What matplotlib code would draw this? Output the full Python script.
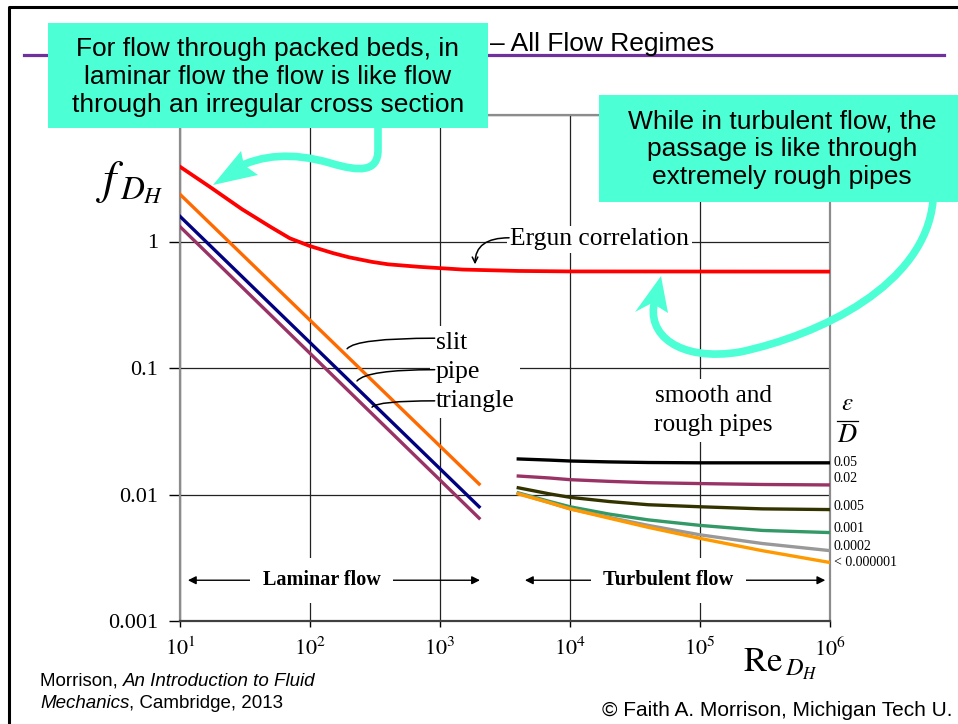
import matplotlib
matplotlib.use("Agg")
import matplotlib.pyplot as plt
from matplotlib.patches import Rectangle, Polygon, PathPatch
from matplotlib.path import Path
from matplotlib.lines import Line2D
from matplotlib import transforms

plt.rcParams['font.family'] = ['Liberation Serif', 'DejaVu Serif']
plt.rcParams['mathtext.fontset'] = 'stix'

# ---------------- data ----------------
re_lam = [10, 2000]
f_slit = [2.36, 0.0121]
f_pipe = [1.58, 0.0080]
f_tri = [1.31, 0.0065]

re_ergun = [10, 17, 30, 50, 70, 100, 150, 200, 300, 400, 700, 1500, 4000, 1e4, 1e6]
f_ergun = [3.9, 2.7, 1.8, 1.3, 1.06, 0.92, 0.81, 0.75, 0.69, 0.66, 0.63, 0.60, 0.585, 0.58, 0.578]

re_turb = [4000, 7000, 1e4, 2e4, 4e4, 1e5, 3e5, 1e6]
f_005 = [0.0191, 0.0187, 0.0184, 0.0181, 0.0179, 0.0178, 0.0178, 0.0178]
f_002 = [0.0140, 0.0135, 0.0131, 0.0127, 0.0124, 0.0122, 0.0120, 0.0119]
f_0005 = [0.0113, 0.0101, 0.0095, 0.0088, 0.0083, 0.0080, 0.0077, 0.0076]
f_0001 = [0.0103, 0.0088, 0.0080, 0.0070, 0.0063, 0.0057, 0.0052, 0.0050]
f_00002 = [0.0102, 0.0086, 0.0077, 0.0066, 0.0057, 0.0048, 0.0041, 0.0036]
f_smooth = [0.0101, 0.0086, 0.0077, 0.0065, 0.0055, 0.0045, 0.0036, 0.0029]

rough_labels = ['0.05', '0.02', '0.005', '0.001', '0.0002', '< 0.000001']
x_ticks = [1e1, 1e2, 1e3, 1e4, 1e5, 1e6]
x_ticklabels = ['$10^{1}$', '$10^{2}$', '$10^{3}$', '$10^{4}$', '$10^{5}$', '$10^{6}$']
y_ticks = [0.001, 0.01, 0.1, 1, 10]
y_ticklabels = ['0.001', '0.01', '0.1', '1', '']

# ---------------- figure ----------------
W, H = 958, 724
fig = plt.figure(figsize=(W / 100, H / 100), dpi=100)
ident = transforms.IdentityTransform()


def P(x, y):
    """pixel (y down) -> display coords"""
    return (x, H - y)


ax = fig.add_axes([180 / W, 1 - 621 / H, 650 / W, 506 / H])
ax.set_xscale('log')
ax.set_yscale('log')
ax.set_xlim(10, 1e6)
ax.set_ylim(0.001, 10)
ax.set_xticks(x_ticks)
ax.set_xticklabels(x_ticklabels, fontsize=16)
ax.set_yticks(y_ticks)
ax.set_yticklabels(y_ticklabels, fontsize=16)
ax.minorticks_off()
ax.tick_params(axis='y', direction='out', length=8, width=1, pad=8)
ax.tick_params(axis='x', direction='out', length=4, width=1, pad=8)
ax.grid(True, which='major', color='#222222', lw=0.9)
for s in ['left', 'right', 'top']:
    ax.spines[s].set_color('#8c8c8c')
    ax.spines[s].set_linewidth(1.6)
ax.spines['bottom'].set_color('#404040')
ax.spines['bottom'].set_linewidth(1.6)

lw = 2.4
ax.plot(re_ergun, f_ergun, color='#FF0000', lw=lw + 0.3, zorder=3)
ax.plot(re_lam, f_slit, color='#FF6A00', lw=lw, zorder=3)
ax.plot(re_lam, f_pipe, color='#000080', lw=lw, zorder=3)
ax.plot(re_lam, f_tri, color='#993366', lw=lw, zorder=3)

turb = [(f_005, '#000000'), (f_002, '#993366'), (f_0005, '#333300'),
        (f_0001, '#339966'), (f_00002, '#999999'), (f_smooth, '#FF9900')]
for fv, c in turb:
    ax.plot(re_turb, fv, color=c, lw=lw, zorder=3)

# roughness labels at right
label_y = [463, 479, 507, 528, 547, 562]
for lab, yy in zip(rough_labels, label_y):
    fig.text(834 / W, 1 - yy / H, lab, fontsize=10, ha='left', va='center')

# epsilon / D
fig.text(847 / W, 1 - 404 / H, r'$\varepsilon$', fontsize=18, ha='center', va='center')
fig.add_artist(Line2D([837 / W, 858 / W], [1 - 421 / H, 1 - 421 / H], color='black', lw=0.9))
fig.text(847 / W, 1 - 436 / H, r'$D$', fontsize=19, ha='center', va='center')

# text annotations in the plot
wb = dict(facecolor='white', edgecolor='none', pad=2)
ax.text(3460, 1.04, 'Ergun correlation', fontsize=18.4, ha='left', va='center', bbox=wb, zorder=4)
ax.annotate('', xy=(1860, 0.66), xytext=(3400, 1.07),
            arrowprops=dict(arrowstyle='->', color='black', lw=1.1,
                            connectionstyle='angle3,angleA=0,angleB=90', shrinkA=0, shrinkB=0),
            zorder=4)

ax.text(930, 0.093, 'slit\npipe\ntriangle', fontsize=18.5, ha='left', va='center',
        linespacing=1.42, bbox=dict(facecolor='white', edgecolor='none', pad=4), zorder=4)
leaders = [((193, 0.142), (910, 0.172)),
           ((230, 0.079), (910, 0.097)),
           ((300, 0.049), (910, 0.055))]
for xy, xyt in leaders:
    ax.annotate('', xy=xy, xytext=xyt,
                arrowprops=dict(arrowstyle='-', color='black', lw=1.1,
                                connectionstyle='angle3,angleA=0,angleB=50', shrinkA=0, shrinkB=0),
                zorder=4)

ax.text(1.26e5, 0.046, 'smooth and\nrough pipes', fontsize=18.2, ha='center', va='center',
        linespacing=1.45, bbox=dict(facecolor='white', edgecolor='none', pad=4), zorder=4)

# laminar / turbulent arrows
ax.annotate('', xy=(11.5, 0.0021), xytext=(2030, 0.0021),
            arrowprops=dict(arrowstyle='<|-|>', color='black', lw=1.0, mutation_scale=12,
                            shrinkA=0, shrinkB=0), zorder=4)
ax.text(123, 0.0021, 'Laminar flow', fontsize=14.5, fontweight='bold', ha='center', va='center',
        bbox=dict(facecolor='white', edgecolor='none', pad=9), zorder=5)
ax.annotate('', xy=(4500, 0.0021), xytext=(9.2e5, 0.0021),
            arrowprops=dict(arrowstyle='<|-|>', color='black', lw=1.0, mutation_scale=12,
                            shrinkA=0, shrinkB=0), zorder=4)
ax.text(5.7e4, 0.0021, 'Turbulent flow', fontsize=14.7, fontweight='bold', ha='center', va='center',
        bbox=dict(facecolor='white', edgecolor='none', pad=9), zorder=5)

# axis labels
fig.text(130 / W, 1 - 183 / H, r'$f_{\,D_H}$', fontsize=34, ha='center', va='center')
fig.text(818 / W, 1 - 664 / H, r'$\mathrm{Re}_{\,D_H}$', fontsize=25, ha='right', va='center')

# ---------------- slide decorations ----------------
fig.add_artist(Line2D([9 / W, 9 / W, 1.0], [0.0, 1 - 7 / H, 1 - 7 / H], color='black', lw=2.2, zorder=1))
fig.add_artist(Line2D([24 / W, 944 / W], [1 - 55 / H, 1 - 55 / H], color='#7030A0', lw=2.3, zorder=1))
fig.text(490 / W, 1 - 44 / H, '– All Flow Regimes', fontsize=19, family=['Liberation Sans'],
         ha='left', va='center', zorder=1)

teal = '#4DFFD4'
fig.add_artist(Rectangle(P(48, 128), 440, 105, transform=ident, facecolor=teal, edgecolor='none', zorder=2))
fig.text(268 / W, 1 - 77 / H,
         'For flow through packed beds, in\nlaminar flow the flow is like flow\nthrough an irregular cross section',
         fontsize=19, family=['Liberation Sans'], ha='center', va='center', linespacing=1.2, zorder=3)

fig.add_artist(Rectangle(P(599, 202), 359, 107, transform=ident, facecolor=teal, edgecolor='none', zorder=2))
fig.text(782 / W, 1 - 149 / H,
         'While in turbulent flow, the\npassage is like through\nextremely rough pipes',
         fontsize=19, family=['Liberation Sans'], ha='center', va='center', linespacing=1.2, zorder=3)

# curved teal arrows
path1 = Path([P(378, 126), P(378, 150), P(378, 172), P(360, 172), P(330, 163),
              P(292, 152), P(262, 155), P(236, 168)],
             [Path.MOVETO, Path.LINETO, Path.CURVE4, Path.CURVE4, Path.CURVE4,
              Path.CURVE4, Path.CURVE4, Path.CURVE4])
fig.add_artist(PathPatch(path1, transform=ident, facecolor='none', edgecolor=teal, lw=5.5,
                         capstyle='butt', zorder=4))
fig.add_artist(Polygon([P(213, 185), P(241, 151), P(244, 165), P(258, 175)], closed=True,
                       transform=ident, facecolor=teal, edgecolor='none', zorder=4))

path2 = Path([P(933, 201), P(925, 285), P(820, 335), P(740, 352),
              P(680, 362), P(645, 335), P(655, 300)],
             [Path.MOVETO, Path.CURVE4, Path.CURVE4, Path.CURVE4,
              Path.CURVE4, Path.CURVE4, Path.CURVE4])
fig.add_artist(PathPatch(path2, transform=ident, facecolor='none', edgecolor=teal, lw=5.5,
                         capstyle='butt', zorder=4))
fig.add_artist(Polygon([P(661, 276), P(635, 312), P(652, 303), P(668, 313)], closed=True,
                       transform=ident, facecolor=teal, edgecolor='none', zorder=4))

# footer (mixed upright / italic)
renderer = fig.canvas.get_renderer()


def text_run(x, y, parts, size):
    for s, style in parts:
        t = fig.text(x / W, 1 - y / H, s, fontsize=size, family=['Liberation Sans'],
                     style=style, ha='left', va='center')
        bb = t.get_window_extent(renderer=renderer)
        x += bb.width


text_run(40, 681, [('Morrison, ', 'normal'), ('An Introduction to Fluid', 'italic')], 13.5)
text_run(40, 703, [('Mechanics', 'italic'), (', Cambridge, 2013', 'normal')], 13.5)
fig.text(953 / W, 1 - 710 / H, '© Faith A. Morrison, Michigan Tech U.', fontsize=15,
         family=['Liberation Sans'], ha='right', va='center')

fig.savefig('out.png', dpi=100)
